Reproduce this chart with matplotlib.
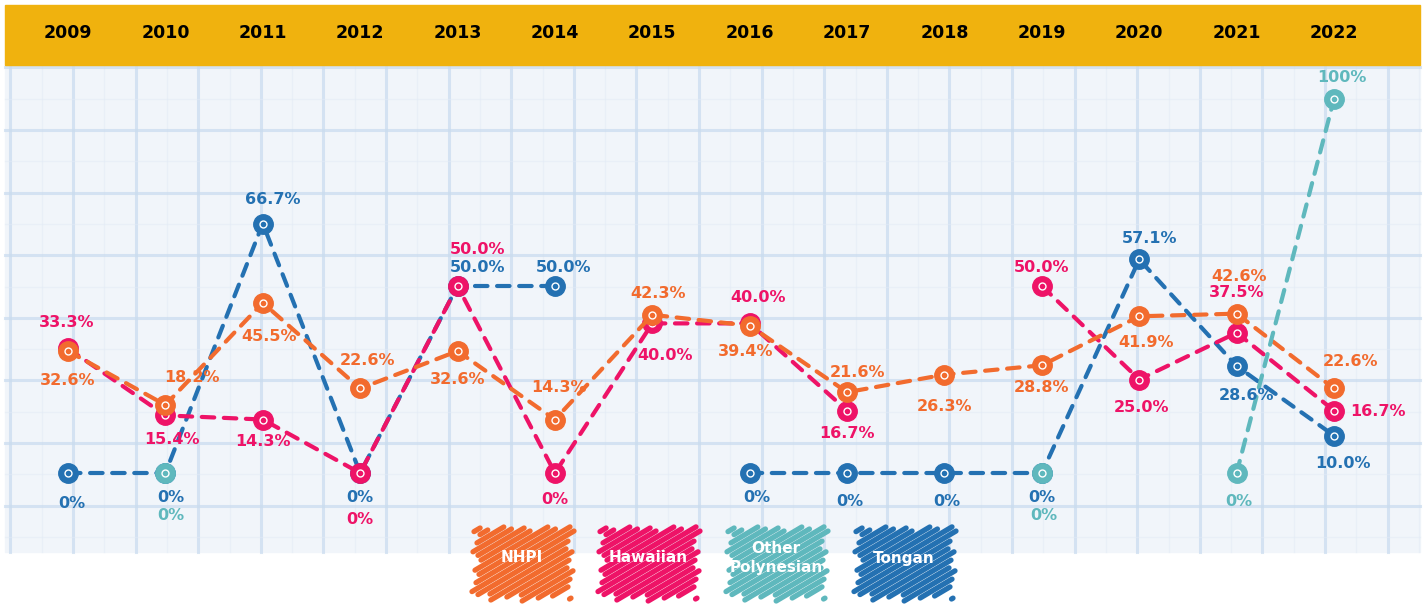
import numpy as np
import matplotlib
matplotlib.use("Agg")
import matplotlib.pyplot as plt
from matplotlib.patches import Rectangle

W_PX, H_PX = 1424, 607

years = list(range(2009, 2023))
nan = np.nan
nhpi = [32.6, 18.2, 45.5, 22.6, 32.6, 14.3, 42.3, 39.4, 21.6, 26.3, 28.8, 41.9, 42.6, 22.6]
hawaiian = [33.3, 15.4, 14.3, 0, 50.0, 0, 40.0, 40.0, 16.7, nan, 50.0, 25.0, 37.5, 16.7]
other_poly = [nan, 0, nan, nan, nan, nan, nan, nan, nan, nan, 0, nan, 0, 100]
tongan = [0, 0, 66.7, 0, 50.0, 50.0, nan, 0, 0, 0, 0, 57.1, 28.6, 10.0]

names = ["NHPI", "Hawaiian", "Other\nPolynesian", "Tongan"]
colors = ["#F26B2E", "#EE1367", "#5FB8BD", "#2471B2"]
series = [nhpi, hawaiian, other_poly, tongan]
zorders = [4, 3, 5, 2]

# label offsets in pixels (dx right, dy down) per series, per year
label_off = [
    {2009: (0, 29), 2010: (27, -27), 2011: (6, 34), 2012: (7, -28), 2013: (0, 28),
     2014: (4, -32), 2015: (6, -21), 2016: (-4, 26), 2017: (10, -20), 2018: (0, 32),
     2019: (0, 22), 2020: (7, 26), 2021: (2, -37), 2022: (16, -27)},
    {2009: (-1, -26), 2010: (7, 24), 2011: (0, 22), 2012: (0, 46), 2013: (20, -36),
     2014: (0, 26), 2015: (13, 32), 2016: (8, -26), 2017: (0, 23), 2019: (0, -19),
     2020: (2, 28), 2021: (0, -40), 2022: (44, 1)},
    {2010: (5, 42), 2019: (2, 42), 2021: (2, 28), 2022: (8, -21)},
    {2009: (4, 30), 2010: (5, 24), 2011: (10, -24), 2012: (0, 24), 2013: (20, -18),
     2014: (9, -19), 2016: (7, 24), 2017: (3, 29), 2018: (2, 29), 2019: (0, 24),
     2020: (10, -21), 2021: (10, 29), 2022: (9, 28)},
]

FONT = "DejaVu Sans"

fig = plt.figure(figsize=(W_PX / 100, H_PX / 100), dpi=100)
fig.patch.set_facecolor("white")

# background (pixel coordinates): graph paper + header band
bg = fig.add_axes([0, 0, 1, 1], zorder=0)
bg.set_xlim(0, W_PX)
bg.set_ylim(H_PX, 0)
bg.axis("off")
bg.add_patch(Rectangle((5, 65), 1415, 487, color="#F1F5FA", zorder=0))
for gx in np.arange(10.4, 1420, 62.6):
    bg.plot([gx, gx], [65, 552], color="#C9DBEF", lw=2.2, alpha=0.7, zorder=1)
    bg.plot([gx + 31.3, gx + 31.3], [65, 552], color="#E2EBF6", lw=1, alpha=0.5, zorder=1)
for gy in np.arange(67.4, 552, 62.6):
    bg.plot([5, 1420], [gy, gy], color="#C9DBEF", lw=2.2, alpha=0.7, zorder=1)
    bg.plot([5, 1420], [gy + 31.3, gy + 31.3], color="#E2EBF6", lw=1, alpha=0.5, zorder=1)
bg.add_patch(Rectangle((5, 5), 1415, 60, color="#F0B20E", zorder=2))

# main data axes
x0, x1 = 5, 1420
y_top, y_bot = 65, 552
ax = fig.add_axes([x0 / W_PX, 1 - y_bot / H_PX, (x1 - x0) / W_PX, (y_bot - y_top) / H_PX], zorder=2)
ax.patch.set_alpha(0)
px_year = (1334 - 68) / 13
px_pct = (473 - 99) / 100
ax.set_xlim(2009 - (68 - x0) / px_year, 2022 + (x1 - 1334) / px_year)
ax.set_ylim(-(y_bot - 473) / px_pct, 100 + (99 - y_top) / px_pct)
ax.axis("off")

for vals, col, zo, offs in zip(series, colors, zorders, label_off):
    v = np.array(vals, dtype=float)
    ax.plot(years, v, color=col, lw=3, dashes=(3, 2.3), dash_capstyle="round", zorder=zo)
    ax.plot(years, v, "o", color=col, ms=14, zorder=zo + 0.1)
    ax.plot(years, v, "o", mfc="none", mec="white", ms=5, mew=1, zorder=zo + 0.2)
    for yr, val in zip(years, vals):
        if np.isnan(val):
            continue
        if val == 0:
            txt = "0%"
        elif val == 100:
            txt = "100%"
        else:
            txt = f"{val:.1f}%"
        dx, dy = offs.get(yr, (0, 25))
        ax.annotate(txt, (yr, val), xytext=(dx, -dy), textcoords="offset pixels",
                    ha="center", va="center", color=col, fontsize=11.5,
                    fontweight="bold", family=FONT, zorder=10)

# year labels in header
for yr in years:
    xp = 68 + (yr - 2009) * px_year
    bg.text(xp, 33, str(yr), ha="center", va="center", fontsize=12.5,
            fontweight="bold", family=FONT, color="black", zorder=3)


def clip_seg(p, d, xa, xb, ya, yb):
    # Liang-Barsky clip of line p + t*d to the box
    t0, t1 = -1e9, 1e9
    for pi, di, lo, hi in ((p[0], d[0], xa, xb), (p[1], d[1], ya, yb)):
        if di == 0:
            if pi < lo or pi > hi:
                return None
            continue
        ta, tb = (lo - pi) / di, (hi - pi) / di
        t0, t1 = max(t0, min(ta, tb)), min(t1, max(ta, tb))
    if t0 >= t1:
        return None
    return (p[0] + t0 * d[0], p[1] + t0 * d[1]), (p[0] + t1 * d[0], p[1] + t1 * d[1])


# scribble legend
lg = fig.add_axes([0, 0, 1, 1], zorder=5)
lg.set_xlim(0, W_PX)
lg.set_ylim(H_PX, 0)
lg.axis("off")
leg_x = [470, 596, 724, 852]
jit = [0, 3, -2, 4, 1, -3, 2, 5, -1, 3, 0, -4, 2, 4, -2, 1, 3, -3, 0, 2, 4, -1, 1, -2, 3, 0, -2, 4]
for lx, name, col in zip(leg_x, names, colors):
    d = (160.0, -95.0)
    for i, k in enumerate(np.arange(-150, 110, 11)):
        j = jit[i % len(jit)]
        seg = clip_seg((lx + k, 610.0), d, lx + 6 + j, lx + 100 - j, 526 + abs(j), 598 - j)
        if seg is None:
            continue
        (ax0, ay0), (ax1, ay1) = seg
        lg.plot([ax0, ax1], [ay0, ay1], color=col, lw=3.8, solid_capstyle="round", zorder=1)
    lg.text(lx + 52, 558, name, ha="center", va="center", color="white",
            fontsize=11, fontweight="bold", family=FONT, zorder=2, linespacing=1.3)

fig.savefig("out.png", dpi=100)
